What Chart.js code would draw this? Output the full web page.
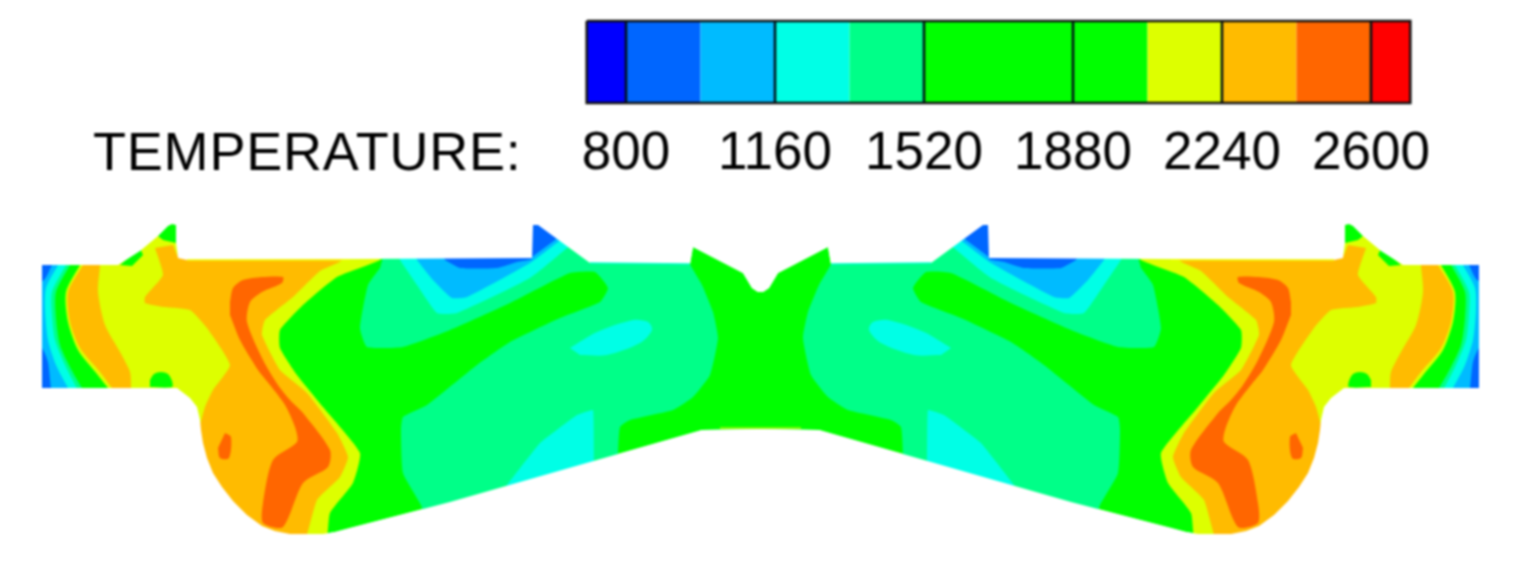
<!DOCTYPE html>
<html><head><meta charset="utf-8">
<style>html,body{margin:0;padding:0;background:#fff}canvas{display:block;filter:blur(.8px)}#w{width:1514px;height:562px}</style>
<script src="https://cdn.jsdelivr.net/npm/chart.js@4"></script></head>
<body><div id="w"><canvas id="c" width="1514" height="562"></canvas></div>
<script>
// Colour bar
const tickValues=[800,1160,1520,1880,2240,2600];
const barLevels=[705,800,980,1160,1340,1520,1880,2060,2240,2420,2600,2695];
const barColors=['#0000ff','#0066ff','#00bbff','#00ffe6','#00ff88','#00ff00','#00ff00','#ddff00','#ffbb00','#ff6600','#ff0000'];
const caption='TEMPERATURE:';
// Contour regions of the left half of the section
const section=[[42,265],[118,265],[140,251],[158,236],[168,226],[172,224],[176,225],[176,243],[178,258],[187,260],[532,258],[533,225],[538,225],[590,263],[690,264],[693,247],[743,273],[752,288],[758,292],[761,292],[761,429],[702,430],[450,502],[350,528],[335,532],[323,534],[290,534],[275,531],[262,526],[247,515],[233,501],[222,487],[213,473],[207,458],[203,443],[201,430],[200,420],[197,407],[190,398],[177,388],[42,388]];
const outsideMask=[[0,205],[761,205],[761,292],[758,292],[752,288],[743,273],[693,247],[690,264],[590,263],[538,225],[533,225],[532,258],[187,260],[178,258],[176,243],[176,225],[172,224],[168,226],[158,236],[140,251],[118,265],[42,265],[42,388],[177,388],[190,398],[197,407],[200,420],[201,430],[203,443],[207,458],[213,473],[222,487],[233,501],[247,515],[262,526],[275,531],[290,534],[323,534],[335,532],[350,528],[450,502],[702,430],[761,429],[761,562],[0,562]];
const yellowBody=[[30,250],[150,220],[180,215],[190,250],[385,250],[380,260],[337,277],[303,305],[280,330],[280,348],[297,375],[323,407],[360,453],[353,483],[330,513],[325,545],[280,545],[250,530],[220,505],[195,450],[185,410],[170,400],[30,400]];
const orangeBody=[[173,245],[178,256],[187,250],[345,250],[341,261],[320,271],[293,297],[265,320],[262,335],[280,370],[307,393],[337,433],[348,457],[340,477],[317,500],[303,545],[280,545],[250,530],[220,505],[195,450],[198,433],[205,407],[213,390],[230,365],[207,328],[190,310],[163,307],[145,303],[145,297],[163,275],[155,248]];
const redBand=[[230,302],[233,288],[243,280],[262,277],[283,277],[282,283],[262,292],[250,302],[247,322],[263,360],[278,385],[290,400],[303,413],[330,450],[328,467],[303,483],[283,527],[263,523],[263,503],[273,460],[297,442],[295,427],[285,405],[270,385],[258,370],[240,340],[230,315]];
const redSpot=[[225,433],[231,437],[229,458],[220,458],[218,448]];
const orangeStripe=[[91,250],[100,250],[100,265],[98,292],[105,325],[120,352],[130,372],[131,388],[131,398],[120,398],[112,388],[100,372],[80,348],[70,322],[68,292],[83,265]];
const greenStripe=[[30,250],[88,250],[80,265],[66,292],[68,322],[78,350],[97,374],[108,388],[116,398],[30,398]];
const springStripe=[[30,250],[78,250],[70,265],[56,292],[56,318],[60,345],[70,367],[82,388],[90,398],[30,398]];
const cyanStripe=[[30,250],[74,250],[66,265],[52,292],[52,315],[55,340],[65,365],[77,388],[85,398],[30,398]];
const skyStripe=[[30,250],[66,250],[58,265],[46,288],[45,310],[48,340],[56,365],[68,388],[74,398],[30,398]];
const blueCornerTop=[[30,255],[56,255],[52,265],[44,280],[30,284]];
const blueCornerBottom=[[30,340],[42,348],[48,362],[51,388],[53,398],[30,398]];
const greenFoot=[[150,380],[154,374],[161,372],[168,374],[172,381],[172,387],[150,387]];
const greenShoulder=[[120,265],[140,248],[143,255],[132,266]];
const greenTip=[[158,236],[168,220],[180,220],[176,243],[163,240]];
const springBody=[[385,250],[520,250],[525,215],[545,215],[600,250],[688,250],[690,264],[702,285],[713,312],[718,338],[710,375],[693,397],[673,410],[630,420],[620,427],[618,454],[617,470],[428,525],[421,505],[403,473],[401,430],[403,417],[427,405],[477,365],[510,342],[560,318],[600,302],[608,288],[595,272],[570,273],[510,303],[450,330],[403,347],[367,347],[360,328],[368,285],[380,268]];
const cyanSpot=[[570,348],[597,332],[633,320],[648,322],[652,330],[640,343],[607,355],[580,355]];
const cyanWedge=[[500,495],[507,485],[540,443],[577,415],[593,410],[594,461],[596,475]];
const cyanTop=[[396,250],[525,250],[525,215],[545,215],[575,240],[567,248],[530,278],[457,313],[437,313],[417,285],[400,260]];
const skyTop=[[413,250],[525,250],[525,215],[545,215],[566,236],[558,242],[530,263],[467,297],[452,298],[433,280],[417,260]];
const blueTop=[[440,250],[525,250],[532,259],[517,262],[497,268],[460,268],[445,260]];
const blueTooth=[[525,215],[545,215],[562,233],[555,240],[532,257],[525,260]];
const cyanEdge=[[590,263],[690,264]];
const limeEdge=[[720,428],[761,428]];
const yellowEdge=[[187,260],[350,260]];

const regions=[
 [section,'#00ff00',0],[yellowBody,'#ddff00',.15],[orangeBody,'#ffbb00',.15],[redBand,'#ff6600',.25],[redSpot,'#ff6600',.3],
 [greenStripe,'#00ff00',.25],[springStripe,'#00ff88',.25],[cyanStripe,'#00ffe6',.25],[skyStripe,'#00bbff',.25],
 [blueCornerTop,'#0066ff',.2],[blueCornerBottom,'#0066ff',.2],[orangeStripe,'#ffbb00',.25],
 [greenFoot,'#00ff00',.3],[greenShoulder,'#00ff00',0],[greenTip,'#00ff00',0],
 [springBody,'#00ff88',.15],[cyanSpot,'#00ffe6',.3],[cyanWedge,'#00ffe6',.08],[cyanTop,'#00ffe6',.15],[skyTop,'#00bbff',.15],[blueTop,'#0066ff',.15],[blueTooth,'#0066ff',0],
 [outsideMask,'#ffffff',0]
];
const edges=[[cyanEdge,'#00ffd0'],[limeEdge,'#aaff00'],[yellowEdge,'#eeff00']];

const datasets=[];
function area(data,color,xAxisID,tension){datasets.push({data,xAxisID,yAxisID:'y',showLine:true,fill:'shape',backgroundColor:color,borderColor:color,borderWidth:0,pointRadius:0,tension})}
function stroke(data,color,xAxisID,width){datasets.push({data,xAxisID,yAxisID:'y',showLine:true,fill:false,borderColor:color,borderWidth:width,pointRadius:0})}
for(const ax of ['x','xm']){
 for(const [d,c,t] of regions) area(d,c,ax,t);
 for(const [d,c] of edges) stroke(d,c,ax,1.5);
}
barColors.forEach((c,i)=>area([[barLevels[i],21],[barLevels[i+1],21],[barLevels[i+1],103],[barLevels[i],103]],c,'t',0));
for(const v of tickValues) stroke([[v,21],[v,103]],'#001018','t',2.5);
const bl=barLevels[0],br=barLevels[barLevels.length-1];
stroke([[bl,21],[br,21],[br,103],[bl,103],[bl,21]],'#111','t',2.5);
datasets.forEach((d,i)=>d.order=datasets.length-i);

const captionPlugin={id:'caption',afterDraw(ch){const g=ch.ctx;g.save();g.fillStyle='#000';g.font='54px "Liberation Sans"';g.letterSpacing='0.8px';g.textBaseline='alphabetic';g.textAlign='left';
 g.fillText(caption,ch.scales.x.getPixelForValue(93),ch.scales.y.getPixelForValue(170));g.restore()}};

new Chart(document.getElementById('c'),{type:'scatter',data:{datasets},plugins:[captionPlugin],options:{
 responsive:false,animation:false,events:[],layout:{padding:0},
 plugins:{legend:{display:false},tooltip:{enabled:false},title:{display:false}},
 scales:{
  x:{type:'linear',display:false,min:0,max:1514},
  xm:{type:'linear',display:false,min:7,max:1521,reverse:true},
  y:{type:'linear',display:false,min:0,max:562,reverse:true},
  t:{type:'linear',min:-712.5,max:2945.5,position:{y:123},grid:{display:false,drawTicks:false},border:{display:false},
   afterBuildTicks(s){s.ticks=tickValues.map(value=>({value}))},
   ticks:{autoSkip:false,maxRotation:0,padding:0,color:'#000',font:{family:'"Liberation Sans"',size:53},callback:v=>String(v)}}
 }}});
</script></body></html>
